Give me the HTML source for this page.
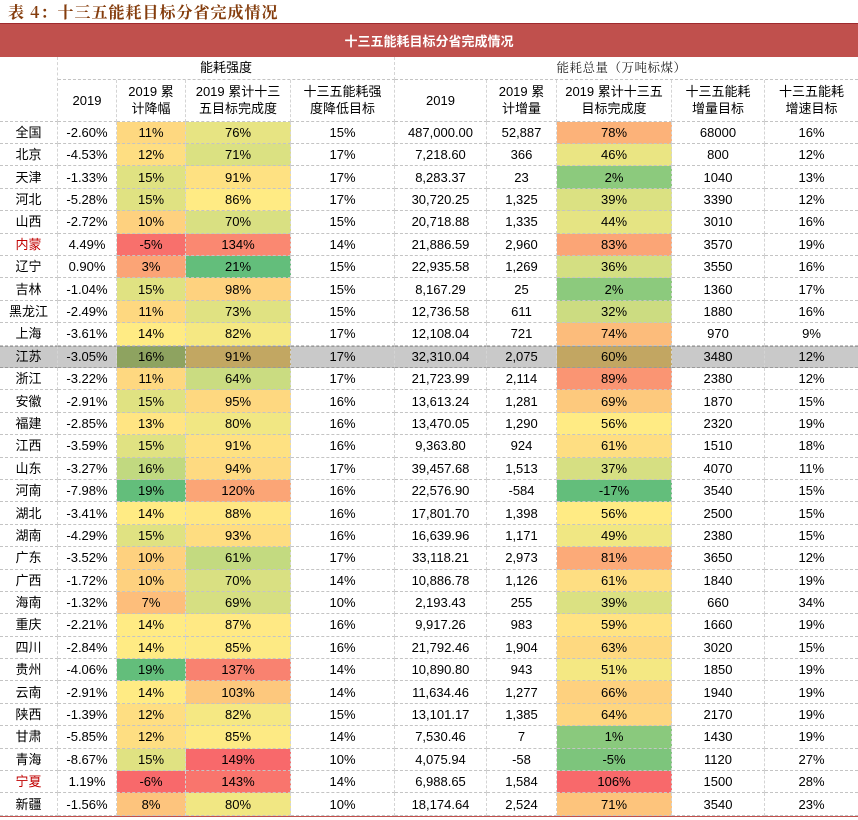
<!DOCTYPE html>
<html>
<head>
<meta charset="utf-8">
<style>
html,body{margin:0;padding:0;background:#fff;}
body{width:858px;height:820px;position:relative;overflow:hidden;font-family:"Liberation Sans","Noto Sans CJK SC",sans-serif;color:#000;}
.title{position:absolute;left:8px;top:0;height:23px;line-height:23px;font-family:"Noto Serif CJK SC","Noto Sans CJK SC",serif;font-weight:700;font-size:16px;letter-spacing:1px;color:#843C0C;white-space:nowrap;}
.bar{position:absolute;left:0;top:22.7px;width:858px;height:34px;background:#C0504D;border-top:1px solid #9E2A2E;box-sizing:border-box;color:#fff;font-weight:700;font-size:13px;display:flex;align-items:center;justify-content:center;}
.hd{position:absolute;left:0;top:56.7px;width:858px;display:grid;grid-template-columns:58px 59px 69px 105px 104px 92px 70px 115px 93px 93px;grid-template-rows:23.3px 41.7px;}
.hd>div{display:flex;align-items:center;justify-content:center;text-align:center;border-right:1px dashed #d4d4d4;border-bottom:1px dashed #c4c4c4;box-sizing:border-box;font-size:13px;line-height:17px;}
.hd>div.last{border-right:0;}
.g{position:absolute;left:0;top:121.7px;width:858px;display:grid;grid-template-columns:58px 59px 69px 105px 104px 92px 70px 115px 93px 93px;grid-template-rows:repeat(31,22.4px);}
.r{display:contents;}
.r>div{display:flex;align-items:center;justify-content:center;border-right:1px dashed #d4d4d4;border-bottom:1px dashed #c4c4c4;box-sizing:border-box;font-size:13px;line-height:15px;white-space:nowrap;}
.r>div:last-child{border-right:0;}
.r.hl>div{background:#C9C9C9;border-bottom:1px dashed #9a9a9a;border-top:1px dashed #9a9a9a;}
.red{color:#C00000;}
.bot{position:absolute;left:0;top:815.5px;width:858px;height:1.5px;background:#C0504D;}
</style>
</head>
<body>
<div class="title">表 4：十三五能耗目标分省完成情况</div>
<div class="bar">十三五能耗目标分省完成情况</div>
<div class="hd">
<div style="grid-row:1/3;grid-column:1;"></div>
<div style="grid-row:1;grid-column:2/6;">能耗强度</div>
<div class="last" style="grid-row:1;grid-column:6/11;font-family:'Noto Serif CJK SC','Noto Sans CJK SC',serif;font-size:12.5px;letter-spacing:0.5px;color:#222;padding-right:10px;">能耗总量（万吨标煤）</div>
<div style="grid-row:2;grid-column:2;">2019</div>
<div style="grid-row:2;grid-column:3;">2019 累<br>计降幅</div>
<div style="grid-row:2;grid-column:4;">2019 累计十三<br>五目标完成度</div>
<div style="grid-row:2;grid-column:5;">十三五能耗强<br>度降低目标</div>
<div style="grid-row:2;grid-column:6;">2019</div>
<div style="grid-row:2;grid-column:7;">2019 累<br>计增量</div>
<div style="grid-row:2;grid-column:8;">2019 累计十三五<br>目标完成度</div>
<div style="grid-row:2;grid-column:9;">十三五能耗<br>增量目标</div>
<div class="last" style="grid-row:2;grid-column:10;">十三五能耗<br>增速目标</div>
</div>
<div class="g">
<div class="r"><div>全国</div><div>-2.60%</div><div style="background:#FED880">11%</div><div style="background:#E7E483">76%</div><div>15%</div><div>487,000.00</div><div>52,887</div><div style="background:#FCB279">78%</div><div>68000</div><div>16%</div></div>
<div class="r"><div>北京</div><div>-4.53%</div><div style="background:#FEDE82">12%</div><div style="background:#DBE182">71%</div><div>17%</div><div>7,218.60</div><div>366</div><div style="background:#EAE583">46%</div><div>800</div><div>12%</div></div>
<div class="r"><div>天津</div><div>-1.33%</div><div style="background:#E0E282">15%</div><div style="background:#FEE182">91%</div><div>17%</div><div>8,283.37</div><div>23</div><div style="background:#8CCA7D">2%</div><div>1040</div><div>13%</div></div>
<div class="r"><div>河北</div><div>-5.28%</div><div style="background:#E0E282">15%</div><div style="background:#FFEB84">86%</div><div>17%</div><div>30,720.25</div><div>1,325</div><div style="background:#DBE182">39%</div><div>3390</div><div>12%</div></div>
<div class="r"><div>山西</div><div>-2.72%</div><div style="background:#FED17F">10%</div><div style="background:#D9E082">70%</div><div>15%</div><div>20,718.88</div><div>1,335</div><div style="background:#E5E483">44%</div><div>3010</div><div>16%</div></div>
<div class="r"><div class="red">内蒙</div><div>4.49%</div><div style="background:#F8706C">-5%</div><div style="background:#FA8871">134%</div><div>14%</div><div>21,886.59</div><div>2,960</div><div style="background:#FBA576">83%</div><div>3570</div><div>19%</div></div>
<div class="r"><div>辽宁</div><div>0.90%</div><div style="background:#FBA476">3%</div><div style="background:#63BE7B">21%</div><div>15%</div><div>22,935.58</div><div>1,269</div><div style="background:#D4DF82">36%</div><div>3550</div><div>16%</div></div>
<div class="r"><div>吉林</div><div>-1.04%</div><div style="background:#E0E282">15%</div><div style="background:#FED27F">98%</div><div>15%</div><div>8,167.29</div><div>25</div><div style="background:#8CCA7D">2%</div><div>1360</div><div>17%</div></div>
<div class="r"><div>黑龙江</div><div>-2.49%</div><div style="background:#FED880">11%</div><div style="background:#E0E282">73%</div><div>15%</div><div>12,736.58</div><div>611</div><div style="background:#CCDC81">32%</div><div>1880</div><div>16%</div></div>
<div class="r"><div>上海</div><div>-3.61%</div><div style="background:#FFEB84">14%</div><div style="background:#F5E883">82%</div><div>17%</div><div>12,108.04</div><div>721</div><div style="background:#FCBC7B">74%</div><div>970</div><div>9%</div></div>
<div class="r hl"><div>江苏</div><div>-3.05%</div><div style="background:#8EA360">16%</div><div style="background:#C2A762">91%</div><div>17%</div><div>32,310.04</div><div>2,075</div><div style="background:#C2A662">60%</div><div>3480</div><div>12%</div></div>
<div class="r"><div>浙江</div><div>-3.22%</div><div style="background:#FED880">11%</div><div style="background:#CADC81">64%</div><div>17%</div><div>21,723.99</div><div>2,114</div><div style="background:#FA9573">89%</div><div>2380</div><div>12%</div></div>
<div class="r"><div>安徽</div><div>-2.91%</div><div style="background:#E0E282">15%</div><div style="background:#FED880">95%</div><div>16%</div><div>13,613.24</div><div>1,281</div><div style="background:#FDC97D">69%</div><div>1870</div><div>15%</div></div>
<div class="r"><div>福建</div><div>-2.85%</div><div style="background:#FFE583">13%</div><div style="background:#F1E783">80%</div><div>16%</div><div>13,470.05</div><div>1,290</div><div style="background:#FFEB84">56%</div><div>2320</div><div>19%</div></div>
<div class="r"><div>江西</div><div>-3.59%</div><div style="background:#E0E282">15%</div><div style="background:#FEE182">91%</div><div>16%</div><div>9,363.80</div><div>924</div><div style="background:#FEDE82">61%</div><div>1510</div><div>18%</div></div>
<div class="r"><div>山东</div><div>-3.27%</div><div style="background:#C1D980">16%</div><div style="background:#FEDA81">94%</div><div>17%</div><div>39,457.68</div><div>1,513</div><div style="background:#D6DF82">37%</div><div>4070</div><div>11%</div></div>
<div class="r"><div>河南</div><div>-7.98%</div><div style="background:#63BE7B">19%</div><div style="background:#FBA576">120%</div><div>16%</div><div>22,576.90</div><div>-584</div><div style="background:#63BE7B">-17%</div><div>3540</div><div>15%</div></div>
<div class="r"><div>湖北</div><div>-3.41%</div><div style="background:#FFEB84">14%</div><div style="background:#FFE783">88%</div><div>16%</div><div>17,801.70</div><div>1,398</div><div style="background:#FFEB84">56%</div><div>2500</div><div>15%</div></div>
<div class="r"><div>湖南</div><div>-4.29%</div><div style="background:#E0E282">15%</div><div style="background:#FEDD81">93%</div><div>16%</div><div>16,639.96</div><div>1,171</div><div style="background:#F0E783">49%</div><div>2380</div><div>15%</div></div>
<div class="r"><div>广东</div><div>-3.52%</div><div style="background:#FED17F">10%</div><div style="background:#C3DA80">61%</div><div>17%</div><div>33,118.21</div><div>2,973</div><div style="background:#FCAA78">81%</div><div>3650</div><div>12%</div></div>
<div class="r"><div>广西</div><div>-1.72%</div><div style="background:#FED17F">10%</div><div style="background:#D9E082">70%</div><div>14%</div><div>10,886.78</div><div>1,126</div><div style="background:#FEDE82">61%</div><div>1840</div><div>19%</div></div>
<div class="r"><div>海南</div><div>-1.32%</div><div style="background:#FDBE7B">7%</div><div style="background:#D6DF82">69%</div><div>10%</div><div>2,193.43</div><div>255</div><div style="background:#DBE182">39%</div><div>660</div><div>34%</div></div>
<div class="r"><div>重庆</div><div>-2.21%</div><div style="background:#FFEB84">14%</div><div style="background:#FFE984">87%</div><div>16%</div><div>9,917.26</div><div>983</div><div style="background:#FFE383">59%</div><div>1660</div><div>19%</div></div>
<div class="r"><div>四川</div><div>-2.84%</div><div style="background:#FFEB84">14%</div><div style="background:#FDEA84">85%</div><div>16%</div><div>21,792.46</div><div>1,904</div><div style="background:#FED980">63%</div><div>3020</div><div>15%</div></div>
<div class="r"><div>贵州</div><div>-4.06%</div><div style="background:#63BE7B">19%</div><div style="background:#F98270">137%</div><div>14%</div><div>10,890.80</div><div>943</div><div style="background:#F4E883">51%</div><div>1850</div><div>19%</div></div>
<div class="r"><div>云南</div><div>-2.91%</div><div style="background:#FFEB84">14%</div><div style="background:#FDC87D">103%</div><div>14%</div><div>11,634.46</div><div>1,277</div><div style="background:#FED17F">66%</div><div>1940</div><div>19%</div></div>
<div class="r"><div>陕西</div><div>-1.39%</div><div style="background:#FEDE82">12%</div><div style="background:#F5E883">82%</div><div>15%</div><div>13,101.17</div><div>1,385</div><div style="background:#FED680">64%</div><div>2170</div><div>19%</div></div>
<div class="r"><div>甘肃</div><div>-5.85%</div><div style="background:#FEDE82">12%</div><div style="background:#FDEA84">85%</div><div>14%</div><div>7,530.46</div><div>7</div><div style="background:#8AC97D">1%</div><div>1430</div><div>19%</div></div>
<div class="r"><div>青海</div><div>-8.67%</div><div style="background:#E0E282">15%</div><div style="background:#F8696B">149%</div><div>10%</div><div>4,075.94</div><div>-58</div><div style="background:#7DC57C">-5%</div><div>1120</div><div>27%</div></div>
<div class="r"><div class="red">宁夏</div><div>1.19%</div><div style="background:#F8696B">-6%</div><div style="background:#F9756D">143%</div><div>14%</div><div>6,988.65</div><div>1,584</div><div style="background:#F8696B">106%</div><div>1500</div><div>28%</div></div>
<div class="r"><div>新疆</div><div>-1.56%</div><div style="background:#FDC47D">8%</div><div style="background:#F1E783">80%</div><div>10%</div><div>18,174.64</div><div>2,524</div><div style="background:#FDC47C">71%</div><div>3540</div><div>23%</div></div>
</div>
<div class="bot"></div>
</body>
</html>
